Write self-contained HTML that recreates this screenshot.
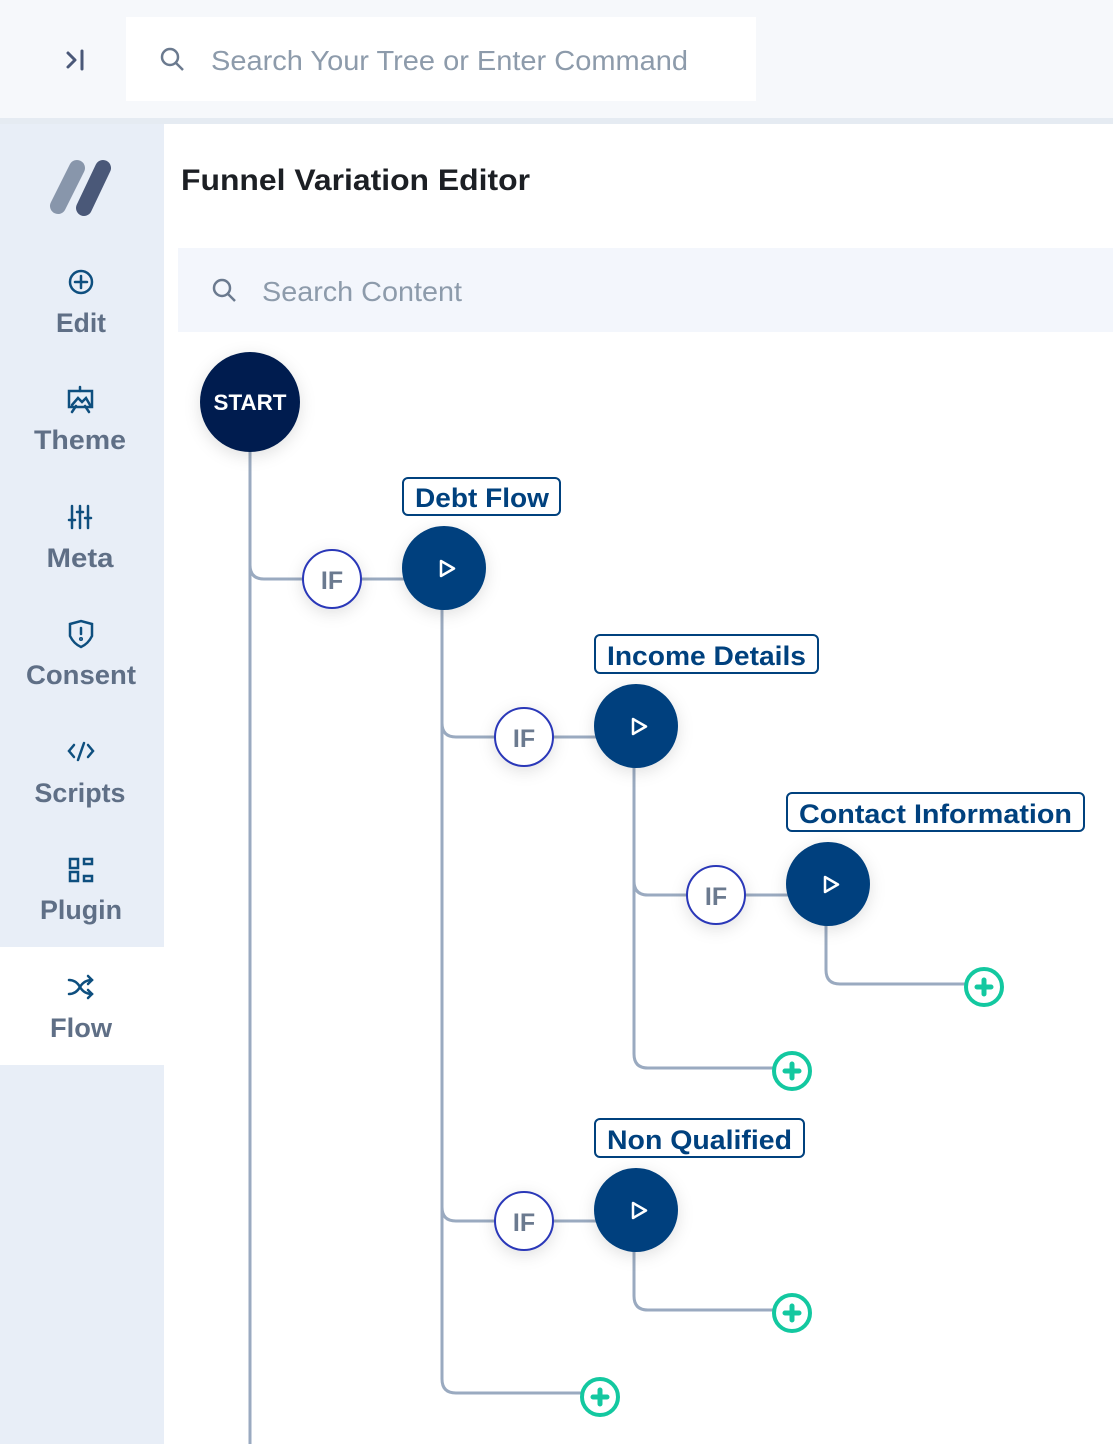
<!DOCTYPE html>
<html><head><meta charset="utf-8"><style>
html,body{margin:0;padding:0;width:1113px;height:1444px;overflow:hidden;background:#fff}
svg{display:block}
</style></head><body>
<svg width="1113" height="1444" viewBox="0 0 1113 1444" xmlns="http://www.w3.org/2000/svg" font-family="Liberation Sans, sans-serif">
<defs>
<filter id="sh" x="-50%" y="-50%" width="200%" height="200%"><feDropShadow dx="0" dy="4" stdDeviation="8" flood-color="#000" flood-opacity="0.12"/></filter>
</defs>
<rect x="0" y="0" width="1113" height="118" fill="#f6f8fb"/>
<rect x="0" y="118" width="1113" height="6" fill="#e5ebf2"/>
<rect x="126" y="17" width="630" height="84" fill="#fff"/>
<g stroke="#4a5878" stroke-width="3" fill="none" stroke-linecap="round" stroke-linejoin="round">
<polyline points="68,53 75,60 68,67"/><line x1="82" y1="51" x2="82" y2="69"/>
</g>
<g stroke="#6b7a8f" stroke-width="2.5" fill="none"><circle cx="170" cy="57" r="8"/><line x1="176" y1="63" x2="183" y2="70"/></g>
<text x="211" y="70" font-size="28" fill="#8d9bab" textLength="477" lengthAdjust="spacingAndGlyphs">Search Your Tree or Enter Command</text>
<rect x="0" y="124" width="164" height="1320" fill="#e8eef7"/>
<rect x="0" y="947" width="164" height="118" fill="#fff"/>
<line x1="77" y1="168" x2="58" y2="206" stroke="#8896ab" stroke-width="16" stroke-linecap="round"/>
<line x1="103" y1="168" x2="84" y2="208" stroke="#4a5878" stroke-width="16" stroke-linecap="round"/>
<g fill="#5f6f86" font-size="27" font-weight="bold" text-anchor="middle">
<text x="81" y="332" textLength="50" lengthAdjust="spacingAndGlyphs">Edit</text>
<text x="80" y="449" textLength="92" lengthAdjust="spacingAndGlyphs">Theme</text>
<text x="80" y="567" textLength="67" lengthAdjust="spacingAndGlyphs">Meta</text>
<text x="81" y="684" textLength="110" lengthAdjust="spacingAndGlyphs">Consent</text>
<text x="80" y="802" textLength="91" lengthAdjust="spacingAndGlyphs">Scripts</text>
<text x="81" y="919" textLength="82" lengthAdjust="spacingAndGlyphs">Plugin</text>
<text x="81" y="1037" textLength="62" lengthAdjust="spacingAndGlyphs">Flow</text>
</g>
<g stroke="#0e4f7f" stroke-width="2.5" fill="none" stroke-linecap="round">
<circle cx="81" cy="282" r="11"/><line x1="81" y1="276" x2="81" y2="288"/><line x1="75" y1="282" x2="87" y2="282"/>
<rect x="69" y="391" width="23" height="16"/><line x1="80" y1="387" x2="80" y2="391"/><line x1="72" y1="412" x2="76" y2="406"/><line x1="89" y1="412" x2="85" y2="406"/><polyline points="72,405 78,398 82,402 86,398 90,405"/>
<line x1="72" y1="506" x2="72" y2="528"/><line x1="80" y1="506" x2="80" y2="528"/><line x1="88" y1="506" x2="88" y2="528"/><line x1="69" y1="520" x2="75" y2="520"/><line x1="77" y1="512" x2="83" y2="512"/><line x1="85" y1="518" x2="91" y2="518"/>
<path d="M70 624 L81 621 L92 624 L92 636 Q88 644 81 647 Q74 644 70 636 Z"/><line x1="81" y1="628" x2="81" y2="634"/><circle cx="81" cy="639" r="0.8"/>
<polyline points="74,745 69,751 74,757"/><polyline points="88,745 93,751 88,757"/><line x1="84" y1="743" x2="78" y2="760"/>
<rect x="70" y="859" width="8" height="9"/><rect x="84" y="859" width="8" height="5"/><rect x="70" y="872" width="8" height="9"/><rect x="84" y="876" width="8" height="5"/>
<path d="M69 980 Q76 980 80 987 Q84 994 92 994"/><path d="M69 994 Q76 994 80 987 Q84 980 92 980"/><polyline points="88,976 92,980 88,984"/><polyline points="88,990 92,994 88,998"/>
</g>
<text x="181" y="190" font-size="30" font-weight="bold" fill="#1c1f24" textLength="349" lengthAdjust="spacingAndGlyphs">Funnel Variation Editor</text>
<rect x="178" y="248" width="935" height="84" fill="#f3f6fc"/>
<g stroke="#6b7a8f" stroke-width="2.5" fill="none"><circle cx="222" cy="288" r="8"/><line x1="228" y1="294" x2="235" y2="301"/></g>
<text x="262" y="301" font-size="28" fill="#8d9bab" textLength="200" lengthAdjust="spacingAndGlyphs">Search Content</text>
<g stroke="#9aaac0" stroke-width="3" fill="none">
<line x1="250" y1="440" x2="250" y2="1444"/>
<path d="M250 565 Q250 579 264 579 L410 579"/>
<path d="M442 600 L442 1379 Q442 1393 456 1393 L590 1393"/>
<path d="M442 723 Q442 737 456 737 L600 737"/>
<path d="M442 1207 Q442 1221 456 1221 L600 1221"/>
<path d="M634 760 L634 1054 Q634 1068 648 1068 L780 1068"/>
<path d="M634 881 Q634 895 648 895 L790 895"/>
<path d="M826 920 L826 970 Q826 984 840 984 L970 984"/>
<path d="M634 1240 L634 1296 Q634 1310 648 1310 L780 1310"/>
</g>
<circle cx="250" cy="402" r="50" fill="#001f4f" filter="url(#sh)"/>
<text x="250" y="410" font-size="22" font-weight="bold" fill="#fff" text-anchor="middle" textLength="73" lengthAdjust="spacingAndGlyphs">START</text>
<g fill="#fff" stroke="#2b37b8" stroke-width="2">
<circle cx="332" cy="579" r="29" filter="url(#sh)"/>
<circle cx="524" cy="737" r="29" filter="url(#sh)"/>
<circle cx="716" cy="895" r="29" filter="url(#sh)"/>
<circle cx="524" cy="1221" r="29" filter="url(#sh)"/>
</g>
<g fill="#6b7a8f" font-size="25" font-weight="bold" text-anchor="middle">
<text x="332" y="589">IF</text><text x="524" y="747">IF</text><text x="716" y="905">IF</text><text x="524" y="1231">IF</text>
</g>
<g fill="#00417e" filter="url(#sh)">
<circle cx="444" cy="568" r="42"/><circle cx="636" cy="726" r="42"/><circle cx="828" cy="884" r="42"/><circle cx="636" cy="1210" r="42"/>
</g>
<g fill="none" stroke="#fff" stroke-width="2.5" stroke-linejoin="round">
<polygon points="441,561 441,576 454,568.5"/><polygon points="633,719 633,734 646,726.5"/><polygon points="825,877 825,892 838,884.5"/><polygon points="633,1203 633,1218 646,1210.5"/>
</g>
<g fill="#fff" stroke="#00417e" stroke-width="2">
<rect x="403" y="478" width="157" height="37" rx="5"/>
<rect x="595" y="635" width="223" height="38" rx="5"/>
<rect x="787" y="793" width="297" height="38" rx="5"/>
<rect x="595" y="1119" width="209" height="38" rx="5"/>
</g>
<g fill="#00417e" font-size="27" font-weight="bold">
<text x="415" y="507" textLength="134" lengthAdjust="spacingAndGlyphs">Debt Flow</text>
<text x="607" y="665" textLength="199" lengthAdjust="spacingAndGlyphs">Income Details</text>
<text x="799" y="823" textLength="273" lengthAdjust="spacingAndGlyphs">Contact Information</text>
<text x="607" y="1149" textLength="185" lengthAdjust="spacingAndGlyphs">Non Qualified</text>
</g>
<g fill="#fff" stroke="#13c8a0" stroke-width="4">
<circle cx="984" cy="987" r="18"/><circle cx="792" cy="1071" r="18"/><circle cx="792" cy="1313" r="18"/><circle cx="600" cy="1397" r="18"/>
</g>
<g stroke="#13c8a0" stroke-width="5" stroke-linecap="round">
<path d="M984 980 V994 M977 987 H991"/><path d="M792 1064 V1078 M785 1071 H799"/><path d="M792 1306 V1320 M785 1313 H799"/><path d="M600 1390 V1404 M593 1397 H607"/>
</g>
</svg>
</body></html>
